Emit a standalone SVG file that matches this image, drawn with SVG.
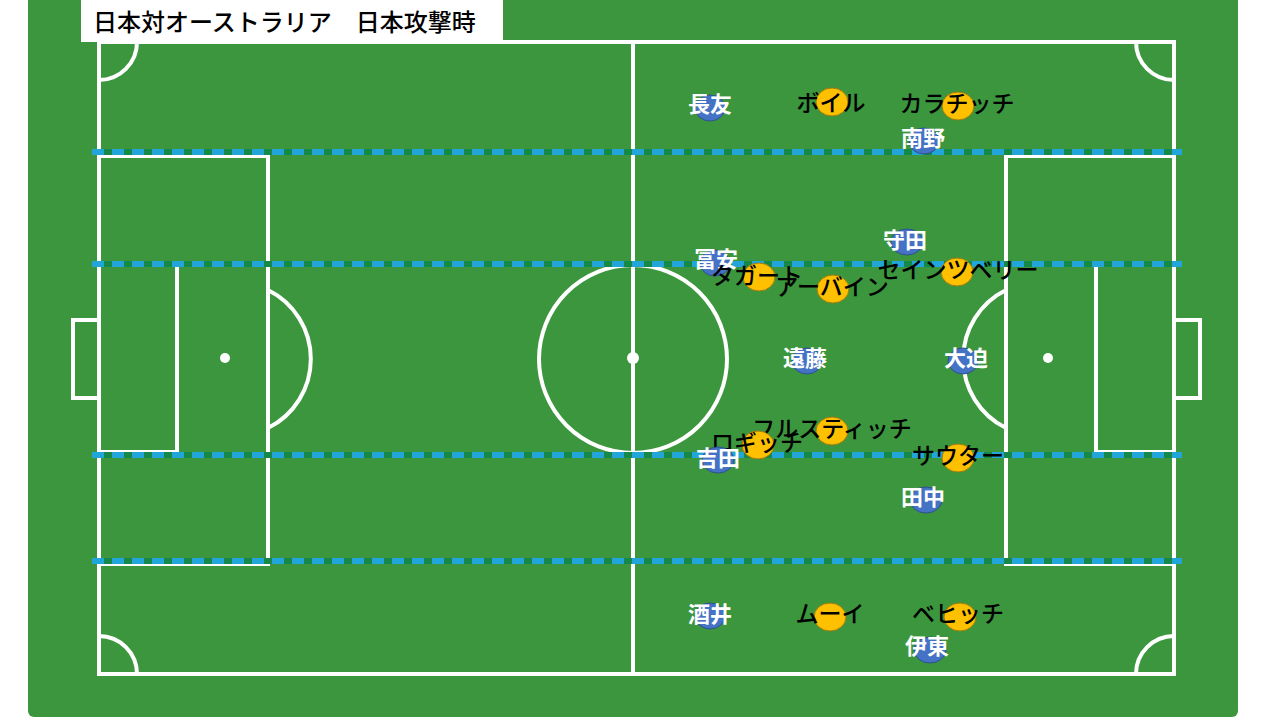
<svg xmlns="http://www.w3.org/2000/svg" width="1280" height="720" viewBox="0 0 1280 720">
<defs>
<style>
.line{fill:none;stroke:#ffffff;stroke-width:4}
.spot{fill:#ffffff}
.dashbase{stroke:#16884a;stroke-width:6}
.dash{stroke:#22a5d8;stroke-width:6;stroke-dasharray:12 8}
.jp{fill:#4472c4;stroke:#2f528f;stroke-width:1}
.au{fill:#ffc000;stroke:#a07c10;stroke-width:1}
.jt{font-family:"Noto Sans CJK JP","Noto Sans",sans-serif;font-size:22px;font-weight:bold;fill:#ffffff;text-anchor:middle}
.at{font-family:"Noto Sans CJK JP","Noto Sans",sans-serif;font-size:23px;font-weight:500;fill:#000000;text-anchor:middle}
.title{font-family:"Noto Sans CJK JP","Noto Sans",sans-serif;font-size:24px;font-weight:500;fill:#000000}
</style>
</defs>
<rect width="1280" height="720" fill="#ffffff"/>
<rect x="28" y="-10" width="1210" height="727" rx="6" fill="#3b963d"/>
<g id="pitch">
<rect class="line" x="99" y="42" width="1075" height="632"/>
<line class="line" x1="633" y1="42" x2="633" y2="674"/>
<circle class="line" cx="633" cy="359" r="94"/>
<circle class="spot" cx="633" cy="358" r="6"/>
<rect class="line" x="99" y="156" width="169" height="408"/>
<rect class="line" x="99" y="264" width="78" height="188"/>
<rect class="line" x="73" y="320" width="26" height="78"/>
<circle class="spot" cx="225" cy="358" r="5"/>
<path class="line" d="M268 290 A77 77 0 0 1 268 428"/>
<rect class="line" x="1006" y="156" width="168" height="408"/>
<rect class="line" x="1096" y="264" width="78" height="188"/>
<rect class="line" x="1174" y="320" width="26" height="78"/>
<circle class="spot" cx="1048" cy="358" r="5"/>
<path class="line" d="M1006 290 A77 77 0 0 0 1006 428"/>
<path class="line" d="M99 80 A38 38 0 0 0 137 42"/>
<path class="line" d="M1136 42 A38 38 0 0 0 1174 80"/>
<path class="line" d="M99 636 A38 38 0 0 1 137 674"/>
<path class="line" d="M1136 674 A38 38 0 0 1 1174 636"/>
</g>
<g id="connectors">
<line class="dashbase" x1="92" y1="152" x2="1182" y2="152"/>
<line class="dash" x1="92" y1="152" x2="1182" y2="152"/>
<line class="dashbase" x1="92" y1="264" x2="1182" y2="264"/>
<line class="dash" x1="92" y1="264" x2="1182" y2="264"/>
<line class="dashbase" x1="92" y1="455" x2="1182" y2="455"/>
<line class="dash" x1="92" y1="455" x2="1182" y2="455"/>
<line class="dashbase" x1="92" y1="561" x2="1182" y2="561"/>
<line class="dash" x1="92" y1="561" x2="1182" y2="561"/>
</g>
<g id="title">
<rect x="81" y="0" width="422" height="42" fill="#ffffff"/>
<text class="title" x="93" y="31">日本対オーストラリア　日本攻撃時</text>
</g>
<g id="nagatomo"><ellipse class="jp" cx="710" cy="108" rx="15" ry="13"/><text class="jt" x="710" y="112">長友</text></g>
<g id="boyle"><ellipse class="au" cx="832" cy="102" rx="16" ry="14"/><text class="at" x="831" y="111">ボイル</text></g>
<g id="karacic"><ellipse class="au" cx="958" cy="106" rx="16" ry="14"/><text class="at" x="957" y="112">カラチッチ</text></g>
<g id="minamino"><ellipse class="jp" cx="924" cy="141" rx="15" ry="13"/><text class="jt" x="923" y="146">南野</text></g>
<g id="tomiyasu"><ellipse class="jp" cx="715" cy="263" rx="15" ry="13"/><text class="jt" x="716" y="267">冨安</text></g>
<g id="taggart"><ellipse class="au" cx="759" cy="277" rx="16" ry="14"/><text class="at" x="757" y="284">タガート</text></g>
<g id="irvine"><ellipse class="au" cx="833" cy="289" rx="16" ry="14"/><text class="at" x="832" y="295">アーバイン</text></g>
<g id="morita"><ellipse class="jp" cx="907" cy="242" rx="16" ry="13"/><text class="jt" x="905" y="248">守田</text></g>
<g id="sainsbury"><ellipse class="au" cx="957" cy="272" rx="16" ry="14"/><text class="at" x="958" y="278">セインツベリー</text></g>
<g id="endo"><ellipse class="jp" cx="807" cy="361" rx="15" ry="13"/><text class="jt" x="805" y="366">遠藤</text></g>
<g id="osako"><ellipse class="jp" cx="963" cy="361" rx="15" ry="13"/><text class="jt" x="966" y="366">大迫</text></g>
<g id="mrcic"><ellipse class="au" cx="832" cy="431" rx="16" ry="14"/><text class="at" x="832" y="437">フルスティッチ</text></g>
<g id="rogic"><ellipse class="au" cx="758" cy="445" rx="16" ry="14"/><text class="at" x="757" y="451">ロギッチ</text></g>
<g id="yoshida"><ellipse class="jp" cx="718" cy="460" rx="16" ry="13"/><text class="jt" x="718" y="466">吉田</text></g>
<g id="souttar"><ellipse class="au" cx="958" cy="458" rx="16" ry="14"/><text class="at" x="958" y="464">サウター</text></g>
<g id="tanaka"><ellipse class="jp" cx="926" cy="500" rx="16" ry="13"/><text class="jt" x="923" y="505">田中</text></g>
<g id="sakai"><ellipse class="jp" cx="710" cy="616" rx="15" ry="13"/><text class="jt" x="710" y="622">酒井</text></g>
<g id="mooy"><ellipse class="au" cx="830" cy="617" rx="16" ry="14"/><text class="at" x="830" y="622">ムーイ</text></g>
<g id="behich"><ellipse class="au" cx="960" cy="617" rx="16" ry="14"/><text class="at" x="958" y="622">ベヒッチ</text></g>
<g id="ito"><ellipse class="jp" cx="930" cy="650" rx="16" ry="13"/><text class="jt" x="927" y="654">伊東</text></g>
</svg>
